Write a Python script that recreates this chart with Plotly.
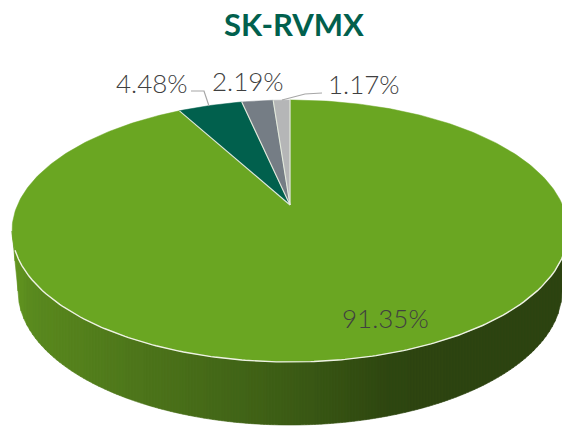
import math
import plotly.graph_objects as go

title = "SK-RVMX"
categories = ["A", "B", "C", "D"]
# clockwise from 12 o'clock
values = [91.35, 4.48, 2.19, 1.17]
colors = ["#6AA622", "#01604D", "#757D85", "#B5B6B7"]
labels = ["91.35%", "4.48%", "2.19%", "1.17%"]

W, H = 562, 426
CX, CY = 290, 205
K, B, A = 0.198, 125.8, 272.5


def proj(theta):
    u, v = math.sin(theta), math.cos(theta)
    d = 1 + K * v
    return CX + A * u / d, CY - B * v / d


traces = []

# ---- side wall (gradient made of thin strips) ----
EX, EY, RX, RY = 290, 231, 278, 131
BX, BY, BRX, BRY = 290, 291, 272, 134
stops = [(12, (100, 152, 33)), (30, (90, 138, 30)), (130, (78, 119, 27)), (290, (60, 92, 21)),
         (390, (46, 70, 16)), (500, (45, 67, 16)), (570, (45, 67, 16))]


def side_color(x):
    for (x0, c0), (x1, c1) in zip(stops, stops[1:]):
        if x <= x1:
            t = max(0, (x - x0) / (x1 - x0))
            return "rgb(%d,%d,%d)" % tuple(round(a + (b - a) * t) for a, b in zip(c0, c1))
    return "rgb(45,67,16)"


def top_y(x):
    return EY + RY * math.sqrt(max(0, 1 - ((x - EX) / RX) ** 2))


def bot_y(x):
    dx = abs(x - BX)
    if dx <= BRX:
        return BY + BRY * math.sqrt(1 - (dx / BRX) ** 2)
    return EY + (BY - EY) * (RX - dx) / (RX - BRX)


STEP = 3
x = EX - RX
while x < EX + RX:
    x1 = min(x + STEP, EX + RX)
    xs = [x + i * (x1 - x) / 3 for i in range(4)]
    px = xs + xs[::-1] + [xs[0]]
    py = [top_y(a) for a in xs] + [bot_y(a) for a in xs[::-1]] + [top_y(xs[0])]
    c = side_color((x + x1) / 2)
    traces.append(go.Scatter(x=px, y=py, mode="lines", fill="toself", fillcolor=c,
                             line=dict(color=c, width=0.6), hoverinfo="skip", showlegend=False))
    x = x1

# ---- top face slices ----
total = sum(values)
bounds = []
acc = 0.0
for v in values:
    bounds.append((acc, acc + v))
    acc += v

for (a0, a1), col, cat in zip(bounds, colors, categories):
    n = max(6, int((a1 - a0) * 4))
    pts = [proj(2 * math.pi * (a0 + (a1 - a0) * i / n) / total) for i in range(n + 1)]
    xs = [CX] + [p[0] for p in pts] + [CX]
    ys = [CY] + [p[1] for p in pts] + [CY]
    traces.append(go.Scatter(x=xs, y=ys, mode="lines", fill="toself", fillcolor=col,
                             line=dict(color=col, width=0.5), name=cat, showlegend=False,
                             hoverinfo="skip"))

# slice separators
for (a0, _) in bounds:
    p = proj(2 * math.pi * a0 / total)
    traces.append(go.Scatter(x=[CX, p[0]], y=[CY, p[1]], mode="lines",
                             line=dict(color="#E4EBDD", width=1.1), showlegend=False, hoverinfo="skip"))

# front rim highlight
rim = [EX - RX + 3 + i * (2 * RX - 6) / 160 for i in range(161)]
traces.append(go.Scatter(x=rim, y=[top_y(a) for a in rim], mode="lines",
                         line=dict(color="#EEF2E4", width=1.4), showlegend=False, hoverinfo="skip"))

# leader lines
traces.append(go.Scatter(x=[191, 204, 209], y=[91, 91, 106], mode="lines",
                         line=dict(color="#A6A6A6", width=1.2), showlegend=False, hoverinfo="skip"))
traces.append(go.Scatter(x=[282, 305, 322], y=[100, 94, 93], mode="lines",
                         line=dict(color="#A6A6A6", width=1.2), showlegend=False, hoverinfo="skip"))

fig = go.Figure(traces)

label_pos = [(385, 318), (152, 83), (248, 81), (364, 84)]
annos = [dict(x=p[0], y=p[1], text=t, showarrow=False, xanchor="center", yanchor="middle",
              font=dict(family="Lato", size=26, color="#404040", weight=300))
         for t, p in zip(labels, label_pos)]
annos.append(dict(x=294, y=24, text="<b>%s</b>" % title, showarrow=False, xanchor="center", yanchor="middle",
                  font=dict(family="Lato", size=31, color="#01604D")))

fig.update_layout(
    width=W, height=H, margin=dict(l=0, r=0, t=0, b=0),
    paper_bgcolor="white", plot_bgcolor="white", showlegend=False,
    xaxis=dict(range=[0, W], visible=False, fixedrange=True),
    yaxis=dict(range=[H, 0], visible=False, fixedrange=True),
    annotations=annos,
)
fig.write_html("out.html", config={"displayModeBar": False},
               post_script="document.body.style.margin='0';document.body.style.overflow='hidden';")
